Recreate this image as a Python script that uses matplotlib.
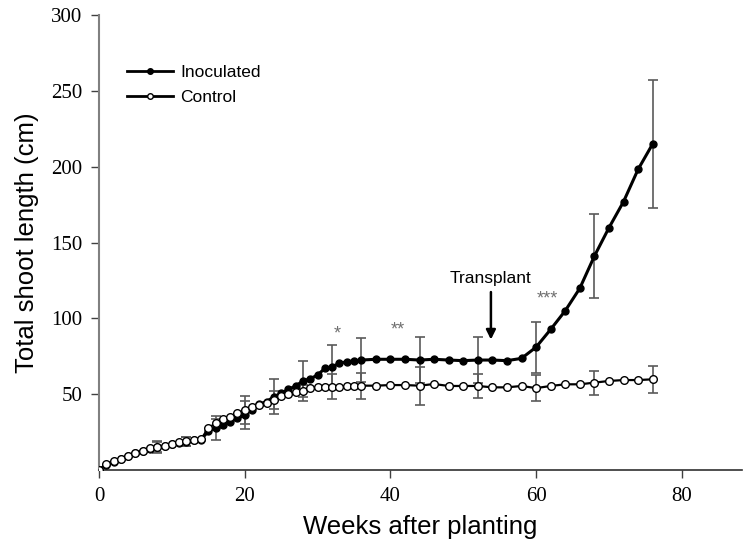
import numpy as np
import matplotlib
matplotlib.use("Agg")
import matplotlib.pyplot as plt
from matplotlib.lines import Line2D

# weeks after planting (weekly up to 36, then every 2 weeks)
weeks = list(range(0, 37)) + list(range(38, 77, 2))

inoculated = [0, 3.5, 5.5, 7.2, 9.0, 11.0, 12.5, 14.0, 15.0, 15.8,
              17.0, 18.0, 18.5, 19.5, 20.0, 25.5, 27.9, 29.7, 31.9, 34.0,
              36.3, 39.6, 43.5, 45.0, 48.3, 50.5, 53.2, 55.4, 58.7, 60.2,
              62.6, 67.0, 68.1, 70.3, 71.4, 71.9, 72.5,
              73.0, 73.0, 73.0, 72.5, 73.0, 72.5, 72.1, 72.5, 72.5, 72.1,
              73.6, 81.0, 92.7, 105.0, 119.8, 141.0, 159.7, 176.9, 198.2, 215.0]

control = [0, 3.9, 5.9, 7.5, 9.2, 11.4, 12.7, 14.3, 15.4, 16.0,
           17.1, 18.2, 18.9, 19.8, 20.2, 27.5, 30.8, 33.4, 34.7, 37.4,
           39.6, 41.3, 42.8, 44.4, 46.1, 48.8, 50.1, 51.4, 52.1, 53.8,
           54.5, 54.5, 54.9, 54.9, 55.4, 55.4, 55.6,
           55.6, 56.0, 56.0, 55.6, 56.7, 55.4, 55.4, 55.4, 54.5, 54.5,
           55.4, 54.0, 55.4, 56.5, 56.5, 57.6, 58.7, 59.3, 59.3, 59.8]

# weeks with error bars and their half-widths
err_weeks = [8, 12, 16, 20, 24, 28, 32, 36, 44, 52, 60, 68, 76]
inoc_err = [3.5, 3.0, 8.0, 9.0, 11.5, 13.2, 14.0, 14.7, 15.0, 15.0, 16.8, 27.5, 42.0]
ctrl_err = [3.5, 3.0, 3.0, 9.0, 6.0, 4.0, 8.3, 8.5, 12.6, 8.2, 8.5, 8.0, 8.8]

# significance marks
stars = ["*", "**", "***"]
star_x = [32.7, 41.0, 61.5]
star_y = [90, 92, 113]

serif = "Liberation Serif"
sans = "Liberation Sans"

fig = plt.figure(figsize=(7.43, 5.46), dpi=100)
ax = fig.add_axes([0.1332, 0.1392, 0.8658, 0.8333])

idx = [weeks.index(w) for w in err_weeks]
inoc_at = [inoculated[i] for i in idx]
ctrl_at = [control[i] for i in idx]

ebar = dict(fmt="none", ecolor="#5a5a5a", elinewidth=1.2, capsize=3.5,
            capthick=1.2, zorder=1)
ax.errorbar(err_weeks, inoc_at, yerr=inoc_err, **ebar)
ax.errorbar(err_weeks, ctrl_at, yerr=ctrl_err, **ebar)

ax.plot(weeks, inoculated, color="black", lw=2.2, marker="o", ms=5,
        mfc="black", mec="black", zorder=3)
ax.plot(weeks, control, color="black", lw=1.6, marker="o", ms=5.5,
        mfc="white", mec="black", mew=1.0, zorder=4)

for s, x, y in zip(stars, star_x, star_y):
    ax.text(x, y, s, ha="center", va="center", fontsize=13,
            color="#707070", family=sans)

ax.annotate("Transplant", xy=(53.8, 86), xytext=(53.8, 121),
            ha="center", va="bottom", fontsize=12.5, family=sans,
            arrowprops=dict(arrowstyle="-|>", color="black", lw=1.8,
                            mutation_scale=14, shrinkA=2, shrinkB=0))

handles = [Line2D([], [], color="black", lw=2.0, marker="o", ms=4,
                  mfc="black", mec="black"),
           Line2D([], [], color="black", lw=2.0, marker="o", ms=4,
                  mfc="white", mec="black")]
ax.legend(handles, ["Inoculated", "Control"], loc="upper left",
          bbox_to_anchor=(0.02, 0.925), frameon=False, handlelength=2.6,
          handletextpad=0.45, labelspacing=0.55,
          prop={"family": sans, "size": 12.5})

ax.set_xlim(0, 88.3)
ax.set_ylim(0, 300)
ax.set_xticks([0, 20, 40, 60, 80])
ax.set_yticks([50, 100, 150, 200, 250, 300])
for lab in ax.get_xticklabels() + ax.get_yticklabels():
    lab.set_family(serif)
    lab.set_fontsize(15)
ax.tick_params(direction="out", length=6, width=1, color="#404040", pad=6)

ax.spines["top"].set_visible(False)
ax.spines["right"].set_visible(False)
ax.spines["left"].set_color("#808080")
ax.spines["left"].set_linewidth(1.5)
ax.spines["bottom"].set_color("#303030")
ax.spines["bottom"].set_linewidth(1.2)

ax.set_xlabel("Weeks after planting", family=sans, fontsize=18.5, labelpad=7)
ax.set_ylabel("Total shoot length (cm)", family=sans, fontsize=18.5, labelpad=9)

fig.savefig("out.png", dpi=100)
